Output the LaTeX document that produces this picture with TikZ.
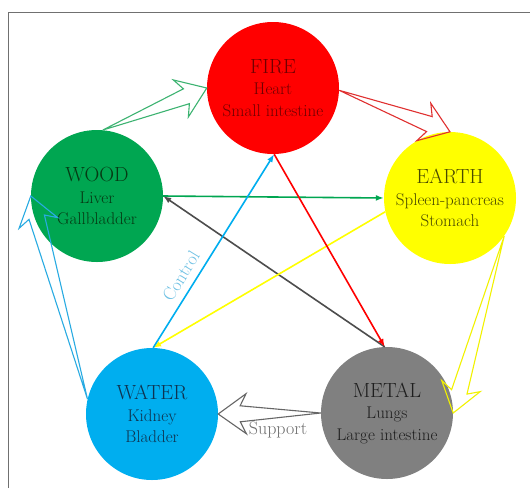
\documentclass[tikz,border=0pt]{standalone}
\usetikzlibrary{calc,arrows.meta}
\definecolor{firefill}{HTML}{FF0000}
\definecolor{woodfill}{HTML}{00A651}
\definecolor{earthfill}{HTML}{FFFF00}
\definecolor{waterfill}{HTML}{00AEEF}
\definecolor{metalfill}{HTML}{808080}
\definecolor{firetxt}{HTML}{700000}
\definecolor{woodtxt}{HTML}{063A14}
\definecolor{earthtxt}{HTML}{4A4A00}
\definecolor{watertxt}{HTML}{0F3350}
\definecolor{metaltxt}{HTML}{1E1E1E}
\definecolor{gsup}{HTML}{3CB371}
\definecolor{rsup}{HTML}{E03030}
\definecolor{ysup}{HTML}{F2F200}
\definecolor{msup}{HTML}{666666}
\definecolor{bsup}{HTML}{29ABE2}
\definecolor{gctl}{HTML}{00A651}
\definecolor{rctl}{HTML}{FF0000}
\definecolor{yctl}{HTML}{FFFF00}
\definecolor{mctl}{HTML}{4D4D4D}
\definecolor{bctl}{HTML}{00AEEF}
\definecolor{ctlbl}{HTML}{6EC1E4}
\definecolor{suplbl}{HTML}{707070}
\definecolor{framec}{HTML}{707070}
\begin{document}
\begin{tikzpicture}[x=1pt,y=-1pt,
  elem/.style={circle,minimum size=132pt,inner sep=0pt,align=center,
    font=\fontsize{17}{21.5}\selectfont},
  supp/.style={draw=#1,line width=1.1pt,line join=miter,
    to path={-- ($(\tikztotarget)!22pt!(\tikztostart)!8pt!90:(\tikztostart)$)
             -- ($(\tikztotarget)!28pt!(\tikztostart)!20pt!90:(\tikztostart)$)
             -- (\tikztotarget)
             -- ($(\tikztotarget)!28pt!(\tikztostart)!20pt!-90:(\tikztostart)$)
             -- ($(\tikztotarget)!22pt!(\tikztostart)!8pt!-90:(\tikztostart)$)
             -- cycle}},
  ctrl/.style={draw=#1,line width=1.6pt,-{Latex[length=8pt,width=6pt]}},
  ttl/.style={font=\fontsize{20.5}{24}\selectfont}
]
\fill[white] (0,0) rectangle (530,488);
\useasboundingbox (0,0) rectangle (530,488);
\draw[framec,line width=1pt] (8,488) -- (8,12) -- (530,12);

\node[elem,fill=firefill,text=firetxt] (fire) at (273,88) {{\fontsize{20.5}{24}\selectfont FIRE}\\Heart\\Small intestine};
\node[elem,fill=woodfill,text=woodtxt] (wood) at (97,196) {{\fontsize{20.5}{24}\selectfont WOOD}\\Liver\\Gallbladder};
\node[elem,fill=earthfill,text=earthtxt] (earth) at (450,198) {{\fontsize{20.5}{24}\selectfont EARTH}\\Spleen-pancreas\\Stomach};
\node[elem,fill=waterfill,text=watertxt] (water) at (152,414) {{\fontsize{20.5}{24}\selectfont WATER}\\Kidney\\Bladder};
\node[elem,fill=metalfill,text=metaltxt] (metal) at (387,413) {{\fontsize{20.5}{24}\selectfont METAL}\\Lungs\\Large intestine};

% control cycle
\draw[ctrl=gctl] (wood.0) -- (earth.180);
\draw[ctrl=mctl] (metal.92) -- (wood.0);
\draw[ctrl=yctl] (earth.192) -- (water.89);
\draw[ctrl=bctl] (water.89) -- (fire.-89);
\draw[ctrl=rctl] (fire.-89) -- (metal.92);

% support cycle
\draw[supp=gsup] (wood.85) to (fire.180);
\draw[supp=rsup] (fire.-2) to (earth.90);
\draw[supp=ysup] (earth.-35) to (metal.0);
\draw[supp=msup] (metal.180) to (water.0);
\draw[supp=bsup] (water.167) to (wood.180);

\node[text=ctlbl,rotate=58.5,font=\fontsize{18}{21}\selectfont] (ctllabel) at (181,276) {Control};
\node[text=suplbl,font=\fontsize{18}{21}\selectfont] (suplabel) at (278,430) {Support};
\end{tikzpicture}
\end{document}
